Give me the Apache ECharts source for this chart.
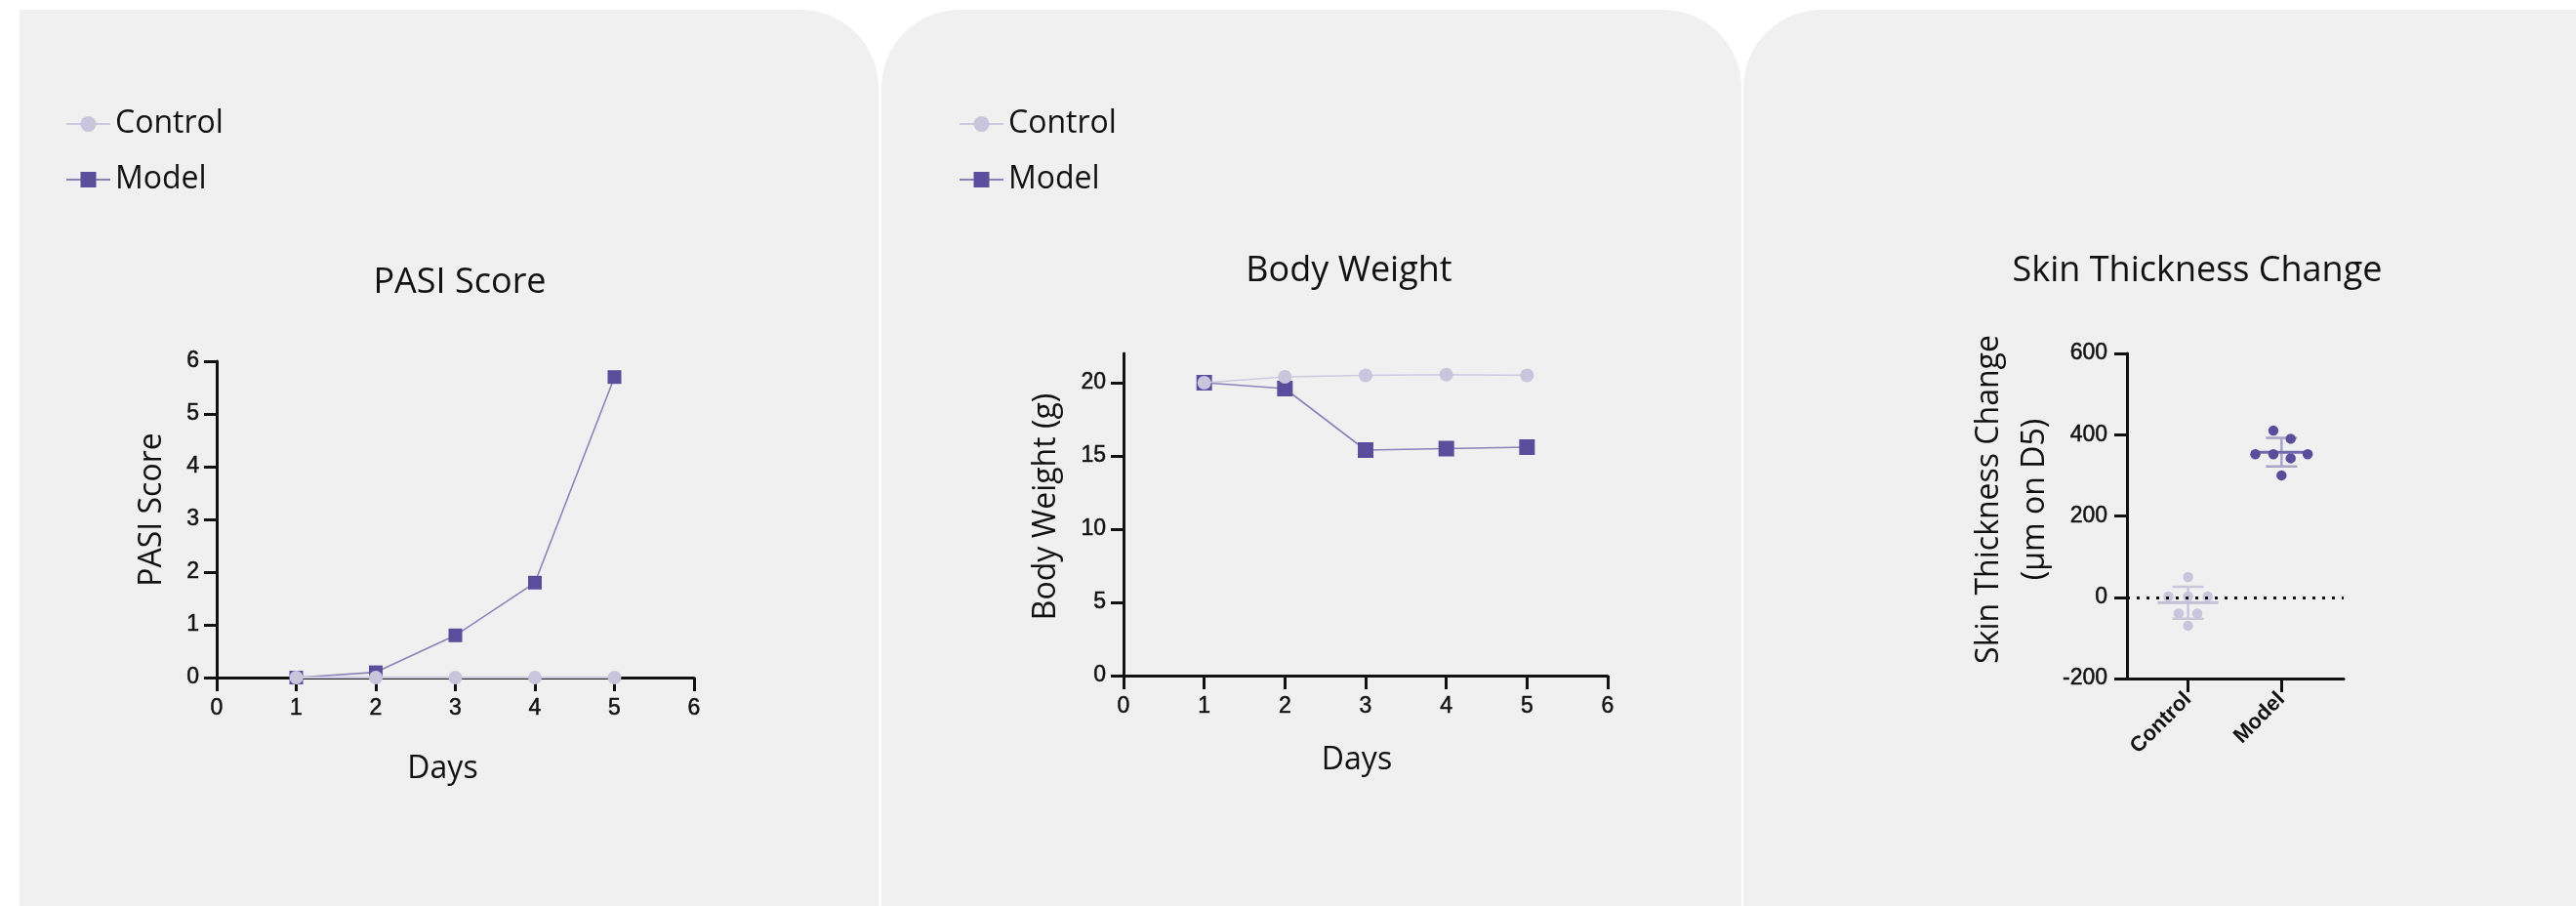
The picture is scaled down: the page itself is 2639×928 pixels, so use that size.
<!DOCTYPE html>
<html><head><meta charset="utf-8">
<script src="https://cdn.jsdelivr.net/npm/echarts@6/dist/echarts.min.js"></script>
<style>html,body{margin:0;padding:0;background:#ffffff;} #c{width:2639px;height:928px;}</style>
</head><body><div id="c"></div>
<script>
// ---- data ----
const days = [1, 2, 3, 4, 5];
const pasiControl = [0, 0, 0, 0, 0];
const pasiModel = [0, 0.1, 0.8, 1.8, 5.7];
const bwControl = [20, 20.4, 20.5, 20.55, 20.5];
const bwModel = [20, 19.6, 15.4, 15.5, 15.6];
const groups = ['Control', 'Model'];
const skinControl = [50, 2, 2, 2, -40, -40, -70];
const skinModel = [410, 390, 352, 352, 342, 352, 300];
const jitterControl = [0, -0.21, 0, 0.21, -0.1, 0.1, 0];
const jitterModel = [-0.087, 0.098, -0.28, -0.087, 0.098, 0.28, 0];
const bwTicks = [0, 5, 10, 15, 20];
const groupTicks = [0, 1];

// ---- helpers ----
const mean = a => a.reduce((s, v) => s + v, 0) / a.length;
const sd = a => { const m = mean(a); return Math.sqrt(a.reduce((s, v) => s + (v - m) * (v - m), 0) / (a.length - 1)); };
const pairs = (xs, ys) => xs.map((x, i) => [x, ys[i]]);

const C_MODEL = '#5a4e9c', C_MODEL_LINE = '#8a84b9';
const C_CTRL = '#c8c5dc', C_CTRL_LINE = '#cdcae0';
const INK = '#111111';
const NAME_FONT = 'Open Sans';
const TICK_FONT = 'Liberation Sans';
const tickText = { fontFamily: TICK_FONT, fontSize: 23, color: INK, textBorderColor: INK, textBorderWidth: 0.5 };

function xAxisDays(grid, gap, pad) {
  return {
    gridIndex: grid, type: 'value', min: 0, max: 6, interval: 1,
    name: 'Days', nameLocation: 'middle', nameGap: gap,
    nameTextStyle: { fontFamily: NAME_FONT, fontSize: 32, color: INK, padding: pad },
    axisLine: { onZero: false, lineStyle: { color: INK, width: 3 } },
    axisTick: { length: 14, lineStyle: { color: INK, width: 3 } },
    axisLabel: Object.assign({}, tickText, { margin: 20 }),
    splitLine: { show: false }
  };
}
const yBase = {
  type: 'value', nameLocation: 'middle',
  axisLine: { show: true, onZero: false, lineStyle: { color: INK, width: 3 } },
  axisTick: { show: true, length: 13, lineStyle: { color: INK, width: 3 } },
  axisLabel: Object.assign({}, tickText, { margin: 18 }),
  splitLine: { show: false }
};

const chart = echarts.init(document.getElementById('c'), null, { renderer: 'canvas' });

const statData = [
  [0, mean(skinControl), sd(skinControl)],
  [1, mean(skinModel), sd(skinModel)]
];
const barStyle = [
  { mean: '#c2bfd8', sd: '#c8c5dc' },
  { mean: '#7169ae', sd: '#a9a5ca' }
];

const option = {
  animation: false,
  backgroundColor: '#ffffff',
  graphic: { elements: [
    { type: 'rect', z: -10, silent: true, shape: { x: 20, y: 10, width: 880, height: 940, r: [0, 80, 0, 0] }, style: { fill: '#f0f0f0' } },
    { type: 'rect', z: -10, silent: true, shape: { x: 903, y: 10, width: 881, height: 940, r: [80, 80, 0, 0] }, style: { fill: '#f0f0f0' } },
    { type: 'rect', z: -10, silent: true, shape: { x: 1786, y: 10, width: 880, height: 940, r: [80, 0, 0, 0] }, style: { fill: '#f0f0f0' } },
    { type: 'text', x: 471, y: 290, style: { text: 'PASI Score', fontFamily: NAME_FONT, fontSize: 36, fill: INK, align: 'center', verticalAlign: 'middle' } },
    { type: 'text', x: 1382, y: 278, style: { text: 'Body Weight', fontFamily: NAME_FONT, fontSize: 36, fill: INK, align: 'center', verticalAlign: 'middle' } },
    { type: 'text', x: 2251, y: 278, style: { text: 'Skin Thickness Change', fontFamily: NAME_FONT, fontSize: 36, fill: INK, align: 'center', verticalAlign: 'middle' } }
  ] },
  legend: [
    { left: 67, top: 111, padding: 0, orient: 'vertical', itemWidth: 45, itemHeight: 20, itemGap: 25,
      selectedMode: false, data: groups, textStyle: { fontFamily: NAME_FONT, fontSize: 32, color: INK } },
    { left: 982, top: 111, padding: 0, orient: 'vertical', itemWidth: 45, itemHeight: 20, itemGap: 25,
      selectedMode: false, data: groups, textStyle: { fontFamily: NAME_FONT, fontSize: 32, color: INK } }
  ],
  grid: [
    { left: 222, top: 370, width: 489, height: 324, outerBoundsMode: 'none' },
    { left: 1151, top: 362, width: 496, height: 330, outerBoundsMode: 'none' },
    { left: 2179, top: 362, width: 222, height: 333, outerBoundsMode: 'none' }
  ],
  xAxis: [
    xAxisDays(0, 78, [0, 26, 0, 0]),
    xAxisDays(1, 71, [0, 18, 0, 0]),
    {
      gridIndex: 2, type: 'value', min: -0.653, max: 1.665,
      axisLine: { onZero: false, lineStyle: { color: INK, width: 3 } },
      axisTick: { length: 14, customValues: groupTicks, lineStyle: { color: INK, width: 3 } },
      axisLabel: { customValues: groupTicks, formatter: v => groups[Math.round(v)], rotate: 45,
        fontFamily: TICK_FONT, fontWeight: 'bold', fontSize: 22, color: INK, margin: 18 },
      splitLine: { show: false }
    }
  ],
  yAxis: [
    Object.assign({}, yBase, { gridIndex: 0, min: 0, max: 6, interval: 1, name: 'PASI Score', nameGap: 50,
      nameTextStyle: { fontFamily: NAME_FONT, fontSize: 32, color: INK, padding: [0, 0, 0, 20] } }),
    Object.assign({}, yBase, { gridIndex: 1, min: 0, max: 22, interval: 5, name: 'Body Weight (g)', nameGap: 63,
      nameTextStyle: { fontFamily: NAME_FONT, fontSize: 32, color: INK, padding: [0, 0, 0, 16] },
      axisTick: Object.assign({}, yBase.axisTick, { customValues: bwTicks }),
      axisLabel: Object.assign({}, yBase.axisLabel, { customValues: bwTicks }) }),
    Object.assign({}, yBase, { gridIndex: 2, min: -200, max: 600, interval: 200,
      name: 'Skin Thickness Change\n(µm on D5)', nameGap: 70,
      nameTextStyle: { fontFamily: NAME_FONT, fontSize: 32, color: INK, lineHeight: 47, padding: [0, 0, 0, 34] },
      axisLabel: Object.assign({}, yBase.axisLabel, { margin: 20 }) })
  ],
  series: [
    { name: 'Model', type: 'line', xAxisIndex: 0, yAxisIndex: 0, data: pairs(days, pasiModel),
      symbol: 'rect', symbolSize: 14, itemStyle: { color: C_MODEL }, lineStyle: { color: C_MODEL_LINE, width: 1.6 }, z: 3 },
    { name: 'Control', type: 'line', xAxisIndex: 0, yAxisIndex: 0, data: pairs(days, pasiControl),
      symbol: 'circle', symbolSize: 14, itemStyle: { color: C_CTRL }, lineStyle: { color: C_CTRL_LINE, width: 2.5 }, z: 4 },
    { name: 'Model', type: 'line', xAxisIndex: 1, yAxisIndex: 1, data: pairs(days, bwModel),
      symbol: 'rect', symbolSize: 16, itemStyle: { color: C_MODEL }, lineStyle: { color: C_MODEL_LINE, width: 1.6 }, z: 3 },
    { name: 'Control', type: 'line', xAxisIndex: 1, yAxisIndex: 1, data: pairs(days, bwControl),
      symbol: 'circle', symbolSize: 14, itemStyle: { color: C_CTRL }, lineStyle: { color: C_CTRL_LINE, width: 1.6 }, z: 4 },
    { name: 'zero', type: 'line', xAxisIndex: 2, yAxisIndex: 2, data: [], z: 1,
      markLine: { silent: true, symbol: 'none', label: { show: false },
        lineStyle: { color: '#111', width: 3, type: [3, 7] }, data: [{ yAxis: 0 }] } },
    { name: 'errbars', type: 'custom', xAxisIndex: 2, yAxisIndex: 2, z: 2, data: statData,
      renderItem: function (params, api) {
        const g = api.value(0), m = api.value(1), s = api.value(2);
        const st = barStyle[params.dataIndex];
        const seg = (x1, y1, x2, y2, color, w) => {
          const a = api.coord([x1, y1]), b = api.coord([x2, y2]);
          return { type: 'line', shape: { x1: a[0], y1: a[1], x2: b[0], y2: b[1] }, style: { stroke: color, lineWidth: w } };
        };
        return { type: 'group', children: [
          seg(g, m - s, g, m + s, st.sd, 2.5),
          seg(g - 0.167, m + s, g + 0.167, m + s, st.sd, 2.5),
          seg(g - 0.167, m - s, g + 0.167, m - s, st.sd, 2.5),
          seg(g - 0.325, m, g + 0.325, m, st.mean, 3)
        ] };
      } },
    { name: 'Control group', type: 'scatter', xAxisIndex: 2, yAxisIndex: 2, z: 3,
      data: skinControl.map((v, i) => [0 + jitterControl[i], v]), symbolSize: 10.5, itemStyle: { color: C_CTRL, opacity: 1 } },
    { name: 'Model group', type: 'scatter', xAxisIndex: 2, yAxisIndex: 2, z: 3,
      data: skinModel.map((v, i) => [1 + jitterModel[i], v]), symbolSize: 10.5, itemStyle: { color: C_MODEL, opacity: 1 } }
  ]
};
chart.setOption(option);
</script>
</body></html>
